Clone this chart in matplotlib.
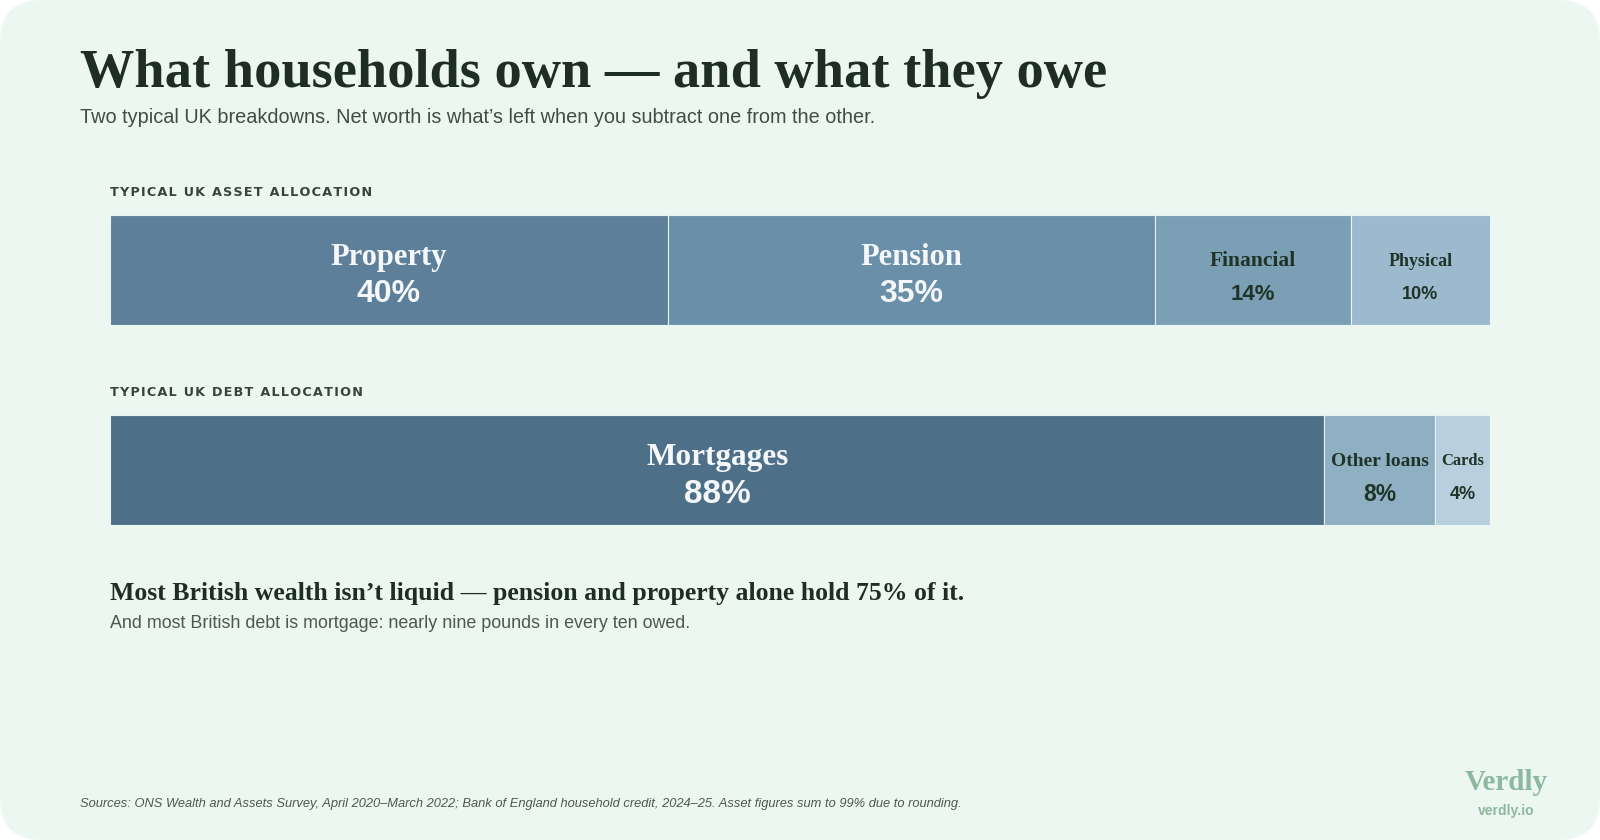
import matplotlib
matplotlib.use("Agg")
import matplotlib.pyplot as plt
from matplotlib.patches import FancyBboxPatch
import numpy as np

# data
asset_labels = ["Property", "Pension", "Financial", "Physical"]
asset_values = [40, 35, 14, 10]
asset_colors = ["#5E7F99", "#6A8FA8", "#7B9FB4", "#9DB9CE"]

debt_labels = ["Mortgages", "Other loans", "Cards"]
debt_values = [88, 8, 4]
debt_colors = ["#4E6F88", "#8FB0C3", "#B8D0DE"]

# label sizes per segment (name, percentage, light text?)
asset_fonts = [(22, 23, True), (22, 23, True), (15.5, 16, False), (13, 13, False)]
debt_fonts = [(22.5, 24, True), (14, 16.5, False), (12, 13, False)]

W, H = 1600, 840
BG = "#EDF7F1"
DARK = "#1E2D25"
MID = "#3E4E45"
SERIF = "Liberation Serif"
SANS = "Liberation Sans"

fig = plt.figure(figsize=(W / 100, H / 100), dpi=100)
fig.patch.set_facecolor("#FFFFFF")

# rounded card behind everything
card = FancyBboxPatch((0, 0), 1, 1, boxstyle="round,pad=0,rounding_size=0.026",
                      transform=fig.transFigure, facecolor=BG, edgecolor="none", zorder=-10,
                      mutation_aspect=W / H)
fig.patches.append(card)


def px(x, y):
    return x / W, 1 - y / H


def spaced(s):
    return "\u200a".join(s)


fig.text(*px(80, 87), "What households own — and what they owe", fontsize=39.2, fontweight="bold",
         family=SERIF, color=DARK, va="baseline")
fig.text(*px(80, 123), "Two typical UK breakdowns. Net worth is what’s left when you subtract one from the other.",
         fontsize=14.3, family=SANS, color=MID, va="baseline")


def stacked_bar(top, labels, values, colors, fonts):
    ax = fig.add_axes([110 / W, 1 - (top + 110) / H, 1380 / W, 110 / H])
    total = sum(values)
    lefts = np.concatenate([[0], np.cumsum(values)[:-1]])
    ax.barh(0, values, left=lefts, height=1, color=colors, edgecolor="#E8F1F4", linewidth=0.8)
    ax.set_xlim(0, total)
    ax.set_ylim(-0.5, 0.5)
    ax.axis("off")
    for lab, v, l, (fs, pfs, light) in zip(labels, values, lefts, fonts):
        cx = l + v / 2
        col = "#F4F8FA" if light else "#1F3328"
        ax.text(cx, 0.11 if light else 0.08, lab, ha="center", va="center", family=SERIF,
                fontweight="bold", fontsize=fs, color=col)
        ax.text(cx, -0.22, f"{v}%", ha="center", va="center", family=SANS, fontweight="bold",
                fontsize=pfs, color=col)
    return ax


fig.text(*px(110, 196), spaced("TYPICAL UK ASSET ALLOCATION"), fontsize=9.2, fontweight="bold",
         family="DejaVu Sans", color="#34453B", va="baseline")
stacked_bar(215, asset_labels, asset_values, asset_colors, asset_fonts)

fig.text(*px(110, 396), spaced("TYPICAL UK DEBT ALLOCATION"), fontsize=9.2, fontweight="bold",
         family="DejaVu Sans", color="#34453B", va="baseline")
stacked_bar(415, debt_labels, debt_values, debt_colors, debt_fonts)

fig.text(*px(110, 600), "Most British wealth isn’t liquid — pension and property alone hold 75% of it.",
         fontsize=18.5, fontweight="bold", family=SERIF, color=DARK, va="baseline")
fig.text(*px(110, 628), "And most British debt is mortgage: nearly nine pounds in every ten owed.",
         fontsize=12.9, family=SANS, color="#4A5A50", va="baseline")

fig.text(*px(80, 807), "Sources: ONS Wealth and Assets Survey, April 2020–March 2022; Bank of England household credit, "
         "2024–25. Asset figures sum to 99% due to rounding.", fontsize=9.3, style="italic", family=SANS,
         color="#4A5A50", va="baseline")

fig.text(*px(1506, 790), "Verdly", fontsize=21, fontweight="bold", family=SERIF, color="#8CB8A0",
         ha="center", va="baseline")
fig.text(*px(1506, 815), "verdly.io", fontsize=10, fontweight="bold", family=SANS, color="#8CB8A0",
         ha="center", va="baseline")

fig.savefig("out.png", dpi=100, facecolor=fig.get_facecolor())
